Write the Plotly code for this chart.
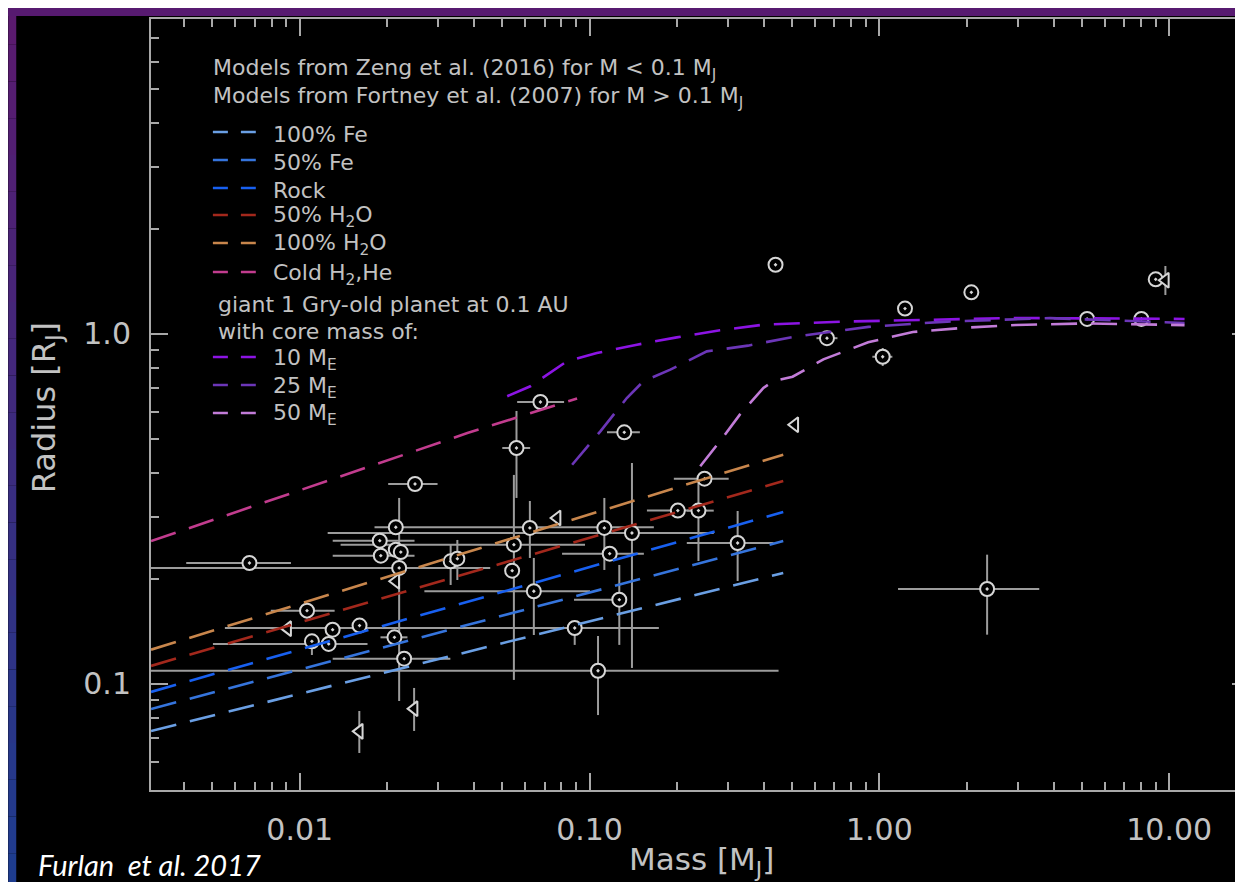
import plotly.graph_objects as go

# ---------------- data ----------------
# planets with measured mass (circles)
pl_mass = [0.00671, 0.0250, 0.02146, 0.01889, 0.02146, 0.02233, 0.01905, 0.02204, 0.03318, 0.03499,
           0.06226, 0.05483, 0.05409, 0.06425, 0.01060, 0.01102, 0.01259, 0.01299, 0.01609, 0.02123,
           0.02293, 0.06771, 0.05598, 0.1318, 0.2493, 0.2017, 0.2376, 0.1125, 0.1401, 0.1174,
           0.3244, 0.1267, 0.0889, 0.1070, 2.354, 0.4383, 1.226, 2.077, 0.6596, 1.027,
           5.209, 8.017, 8.985]
pl_rad = [0.2216, 0.3727, 0.2804, 0.2567, 0.2418, 0.2382, 0.2326, 0.2145, 0.2241, 0.2280,
          0.2791, 0.2500, 0.2107, 0.1840, 0.1620, 0.1324, 0.1301, 0.1429, 0.1468, 0.1359,
          0.1181, 0.6393, 0.4723, 0.5237, 0.3860, 0.3128, 0.3128, 0.2791, 0.2700, 0.2357,
          0.2528, 0.1741, 0.1445, 0.1091, 0.1868, 1.577, 1.182, 1.315, 0.9727, 0.8608,
          1.104, 1.104, 1.433]
pl_mass_lo = [0.00406, 0.0202, 0.01812, 0.0130, 0.02146, 0.02233, 0.0130, 0.0030, 0.03318, 0.03499,
              0.06226, 0.01384, 0.05409, 0.02693, 0.00795, 0.01102, 0.00502, 0.01299, 0.01609, 0.0190,
              0.0130, 0.05628, 0.0500, 0.1149, 0.1954, 0.1578, 0.2166, 0.1125, 0.01249, 0.0804,
              0.2166, 0.0884, 0.00552, 0.0030, 1.160, 0.4383, 1.226, 2.077, 0.6069, 0.946,
              5.209, 8.017, 8.985]
pl_mass_hi = [0.00933, 0.0299, 0.1667, 0.0249, 0.02146, 0.02233, 0.0249, 0.04544, 0.03318, 0.03499,
              0.06226, 0.0965, 0.05409, 0.1004, 0.0132, 0.01102, 0.01714, 0.01299, 0.01609, 0.02354,
              0.0331, 0.0817, 0.0624, 0.1492, 0.3021, 0.2290, 0.2683, 0.1125, 0.2683, 0.1540,
              0.4316, 0.1267, 0.1735, 0.4490, 3.562, 0.4383, 1.226, 2.077, 0.7169, 1.109,
              5.209, 8.017, 8.985]
pl_rad_lo = [0.2216, 0.3727, 0.2804, 0.2567, 0.2418, 0.2382, 0.2326, 0.0894, 0.1918, 0.1982,
             0.2291, 0.1027, 0.2107, 0.1380, 0.1620, 0.1210, 0.1301, 0.1429, 0.1468, 0.1359,
             0.1181, 0.6393, 0.3400, 0.5237, 0.3860, 0.3128, 0.2245, 0.2117, 0.1111, 0.2357,
             0.1969, 0.1293, 0.1293, 0.0815, 0.1383, 1.577, 1.182, 1.315, 0.9727, 0.8100,
             1.104, 1.104, 1.433]
pl_rad_hi = [0.2216, 0.3727, 0.2804, 0.2567, 0.2418, 0.2382, 0.2326, 0.3400, 0.2495, 0.2579,
             0.3333, 0.3956, 0.2107, 0.2291, 0.1620, 0.1380, 0.1301, 0.1429, 0.1468, 0.1359,
             0.1181, 0.6393, 0.6026, 0.5237, 0.3860, 0.3128, 0.3878, 0.3400, 0.4280, 0.2357,
             0.3121, 0.2188, 0.1514, 0.1371, 0.2341, 1.577, 1.182, 1.315, 0.9727, 0.9120,
             1.104, 1.104, 1.433]

# planets with mass upper limits (left triangles)
ul_mass = [0.0773, 0.02146, 0.00909, 0.02482, 0.01606, 0.5109, 9.703]
ul_rad = [0.2980, 0.1965, 0.1439, 0.0850, 0.0732, 0.5506, 1.4235]
ul_rad_lo = [0.2980, 0.1965, 0.1439, 0.0734, 0.0635, 0.5506, 1.292]
ul_rad_hi = [0.2980, 0.1965, 0.1439, 0.0974, 0.0837, 0.5506, 1.564]

# Zeng et al. (2016) models
zeng_mass = [0.00307, 0.0379, 0.466]
fe100_rad = [0.0734, 0.1234, 0.2075]
fe50_rad = [0.0848, 0.1473, 0.256]
rock_rad = [0.0949, 0.1715, 0.310]
h2o50_rad = [0.1126, 0.2067, 0.380]
h2o100_rad = [0.1253, 0.2379, 0.452]
cold_mass = [0.00307, 0.0379, 0.0906]
cold_rad = [0.256, 0.521, 0.654]

# Fortney et al. (2007) models
f10_mass = [0.052, 0.0625, 0.0836, 0.106, 0.1457, 0.200, 0.282, 0.398, 0.756, 1.496, 2.96, 11.3]
f10_rad = [0.664, 0.709, 0.836, 0.882, 0.932, 0.978, 1.025, 1.063, 1.085, 1.097, 1.111, 1.104]
f25_mass = [0.0871, 0.109, 0.1345, 0.1536, 0.190, 0.254, 0.352, 0.501, 0.917, 1.714, 3.88, 11.3]
f25_rad = [0.423, 0.527, 0.656, 0.733, 0.791, 0.892, 0.926, 0.980, 1.048, 1.085, 1.110, 1.075]
f50_mass = [0.241, 0.282, 0.330, 0.398, 0.431, 0.502, 0.641, 0.915, 1.305, 1.966, 2.96, 5.11, 11.3]
f50_rad = [0.419, 0.494, 0.588, 0.701, 0.733, 0.755, 0.846, 0.947, 1.013, 1.042, 1.061, 1.072, 1.060]

model_names = ["100% Fe", "50% Fe", "Rock", "50% H<sub>2</sub>O", "100% H<sub>2</sub>O",
               "Cold H<sub>2</sub>,He", "10 M<sub>E</sub>", "25 M<sub>E</sub>", "50 M<sub>E</sub>"]
model_colors = ["#6a9fe4", "#3574dc", "#1860f0", "#a3281c", "#c8864c",
                "#c23c8e", "#8c14e4", "#6c36b8", "#c27cd8"]
model_x = [zeng_mass, zeng_mass, zeng_mass, zeng_mass, zeng_mass, cold_mass, f10_mass, f25_mass, f50_mass]
model_y = [fe100_rad, fe50_rad, rock_rad, h2o50_rad, h2o100_rad, cold_rad, f10_rad, f25_rad, f50_rad]

x_tickvals = [0.01, 0.1, 1, 10]
x_ticktext = ["0.01", "0.10", "1.00", "10.00"]
y_tickvals = [0.1, 1.0]
y_ticktext = ["0.1", "1.0"]

header_lines = ["Models from Zeng et al. (2016) for M &lt; 0.1 M<sub>J</sub>",
                "Models from Fortney et al. (2007) for M &gt; 0.1 M<sub>J</sub>"]
giant_lines = ["giant 1 Gry-old planet at 0.1 AU", "with core mass of:"]

# ---------------- layout geometry ----------------
W, H = 1243, 882
L, R, T, B = 143, 0, 11, 100
PW, PH = W - L - R, H - T - B


def fx(px):
    return (px - L) / PW


def fy(py):
    return (H - B - py) / PH


GRAY = "#a8a8a8"
TXT = "#c2c2c2"
FONT = "DejaVu Sans"
KEYSIZE = 22

fig = go.Figure()

# planets
fig.add_trace(go.Scatter(
    x=pl_mass, y=pl_rad, mode="markers", showlegend=False,
    error_x=dict(type="data", symmetric=False,
                 array=[h - m for h, m in zip(pl_mass_hi, pl_mass)],
                 arrayminus=[m - l for m, l in zip(pl_mass, pl_mass_lo)],
                 color="#9c9c9c", thickness=2, width=0),
    error_y=dict(type="data", symmetric=False,
                 array=[h - r for h, r in zip(pl_rad_hi, pl_rad)],
                 arrayminus=[r - l for r, l in zip(pl_rad, pl_rad_lo)],
                 color="#9c9c9c", thickness=2, width=0),
    marker=dict(symbol="circle-dot", size=14, color="black",
                line=dict(color="#d6d6d6", width=2)),
))
fig.add_trace(go.Scatter(
    x=ul_mass, y=ul_rad, mode="markers", showlegend=False,
    error_y=dict(type="data", symmetric=False,
                 array=[h - r for h, r in zip(ul_rad_hi, ul_rad)],
                 arrayminus=[r - l for r, l in zip(ul_rad, ul_rad_lo)],
                 color="#9c9c9c", thickness=2, width=0),
    marker=dict(symbol="triangle-left", size=13, color="black",
                line=dict(color="#d6d6d6", width=2)),
))

# model curves
for name, col, xs, ys in zip(model_names, model_colors, model_x, model_y):
    fig.add_trace(go.Scatter(x=xs, y=ys, mode="lines", name=name, showlegend=False,
                             line=dict(color=col, width=2.6, dash="26px,14px")))

# ---------------- hand-made key ----------------
shapes = []
annotations = []
for txt, py in zip(header_lines, [62, 90]):
    annotations.append(dict(x=fx(203), y=fy(py), xref="paper", yref="paper", text=txt,
                            showarrow=False, xanchor="left", yanchor="middle",
                            font=dict(family=FONT, size=KEYSIZE, color=TXT)))
for txt, py in zip(giant_lines, [296, 323]):
    annotations.append(dict(x=fx(208), y=fy(py), xref="paper", yref="paper", text=txt,
                            showarrow=False, xanchor="left", yanchor="middle",
                            font=dict(family=FONT, size=KEYSIZE, color=TXT)))
key_y = [126, 154, 182, 209, 237, 266, 351, 379, 407]
for name, col, py in zip(model_names, model_colors, key_y):
    shapes.append(dict(type="line", xref="paper", yref="paper",
                       x0=fx(205), x1=fx(248), y0=fy(py - 2), y1=fy(py - 2),
                       line=dict(color=col, width=2.6, dash="15px,13px")))
    annotations.append(dict(x=fx(263), y=fy(py), xref="paper", yref="paper", text=name,
                            showarrow=False, xanchor="left", yanchor="middle",
                            font=dict(family=FONT, size=KEYSIZE, color=TXT)))

# axis titles
annotations.append(dict(x=fx(695), y=fy(853), xref="paper", yref="paper",
                        text="Mass [M<sub>J</sub>]", showarrow=False,
                        xanchor="center", yanchor="middle",
                        font=dict(family=FONT, size=31, color=TXT)))
annotations.append(dict(x=fx(38), y=fy(400), xref="paper", yref="paper",
                        text="Radius [R<sub>J</sub>]", showarrow=False, textangle=-90,
                        xanchor="center", yanchor="middle",
                        font=dict(family=FONT, size=32, color=TXT)))
# citation
annotations.append(dict(x=fx(28), y=fy(856), xref="paper", yref="paper",
                        text="<i>Furlan\u00a0 et al. 2017</i>", showarrow=False,
                        xanchor="left", yanchor="middle",
                        font=dict(family="Lato", size=29, color="white")))

# slide border strips (purple -> blue)
top_c = (0x5a, 0x1a, 0x6e)
bot_c = (0x1e, 0x3c, 0x8e)
nseg = 24
for i in range(nseg):
    t = i / (nseg - 1)
    c = tuple(int(round(a + (b - a) * t)) for a, b in zip(top_c, bot_c))
    y0 = i * H / nseg
    y1 = (i + 1) * H / nseg
    shapes.append(dict(type="rect", xref="paper", yref="paper", layer="below",
                       x0=fx(0), x1=fx(8), y0=fy(y1), y1=fy(y0),
                       fillcolor="rgb(%d,%d,%d)" % c, line=dict(width=0)))
shapes.append(dict(type="rect", xref="paper", yref="paper", layer="below",
                   x0=fx(0), x1=fx(W), y0=fy(8), y1=fy(0),
                   fillcolor="#571a70", line=dict(width=0)))

x_minor = [0.004, 0.005, 0.006, 0.007, 0.008, 0.009,
           0.02, 0.03, 0.04, 0.05, 0.06, 0.07, 0.08, 0.09,
           0.2, 0.3, 0.4, 0.5, 0.6, 0.7, 0.8, 0.9,
           2, 3, 4, 5, 6, 7, 8, 9]
y_minor = [0.06, 0.07, 0.08, 0.09, 0.2, 0.3, 0.4, 0.5, 0.6, 0.7, 0.8, 0.9,
           2, 3, 4, 5, 6, 7]

fig.update_layout(
    width=W, height=H,
    margin=dict(l=L, r=R, t=T, b=B),
    paper_bgcolor="black", plot_bgcolor="black",
    shapes=shapes, annotations=annotations,
    xaxis=dict(type="log", range=[-2.513, 1.2754],
               tickvals=x_tickvals, ticktext=x_ticktext,
               ticks="inside", ticklen=17, tickwidth=2, tickcolor=GRAY,
               showline=True, linecolor=GRAY, linewidth=2, mirror="ticks",
               showgrid=False, zeroline=False, ticklabelstandoff=12,
               tickfont=dict(family=FONT, size=30, color=TXT),
               minor=dict(tickvals=x_minor, ticks="inside", ticklen=8,
                          tickwidth=2, tickcolor=GRAY, showgrid=False)),
    yaxis=dict(type="log", range=[-1.303, 0.9],
               tickvals=y_tickvals, ticktext=y_ticktext,
               ticks="inside", ticklen=17, tickwidth=2, tickcolor=GRAY,
               showline=True, linecolor=GRAY, linewidth=2, mirror="ticks",
               showgrid=False, zeroline=False, ticklabelstandoff=12,
               tickfont=dict(family=FONT, size=30, color=TXT),
               minor=dict(tickvals=y_minor, ticks="inside", ticklen=8,
                          tickwidth=2, tickcolor=GRAY, showgrid=False)),
)

fig.write_html("out.html")
